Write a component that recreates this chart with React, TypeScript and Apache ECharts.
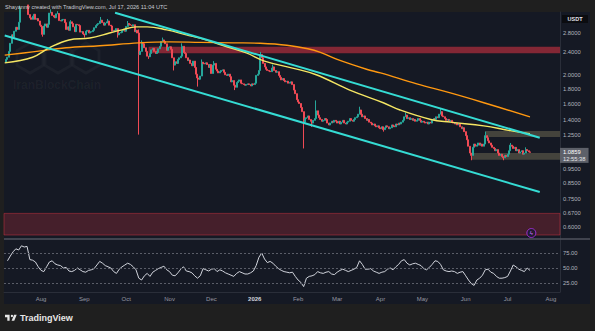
import React, { useEffect, useRef } from "react";
import * as echarts from "echarts";

const DAY = 86400000;
const utc = (s: string) => Date.parse(s + "T00:00:00Z");

// ---------- price data (daily closes) ----------
const firstOpen = 2.22;
const closesJul2025 = [2.27, 2.31, 2.42, 2.58, 2.76, 2.70, 2.84, 2.93, 2.88, 3.05, 3.40, 3.45, 3.44, 3.52, 3.56, 3.50, 3.24, 3.16, 3.12, 3.20, 3.25, 3.12, 3.14, 3.08, 2.98];
const closesAug2025 = [2.95, 2.77, 2.96, 3.01, 2.93, 3.00, 3.28, 3.30, 3.22, 3.18, 3.16, 3.26, 3.27, 3.09, 3.08, 3.11, 3.12, 3.04, 2.88, 2.94, 2.86, 3.06, 3.02, 2.94, 2.83, 3.00, 2.99, 2.97, 2.82, 2.83, 2.78];
const closesSep2025 = [2.76, 2.84, 2.86, 2.80, 2.82, 2.83, 2.86, 2.92, 2.97, 3.00, 3.02, 3.08, 3.10, 3.04, 2.98, 3.03, 3.06, 3.08, 2.98, 2.96, 2.84, 2.86, 2.85, 2.90, 2.76, 2.80, 2.81, 2.85, 2.86, 2.84];
const closesOct2025 = [2.95, 3.02, 3.00, 2.98, 2.96, 2.99, 2.83, 2.86, 2.80, 2.36, 2.42, 2.60, 2.57, 2.49, 2.42, 2.33, 2.32, 2.38, 2.45, 2.48, 2.42, 2.38, 2.40, 2.47, 2.52, 2.62, 2.65, 2.62, 2.57, 2.44, 2.50];
const closesNov2025 = [2.51, 2.46, 2.30, 2.17, 2.23, 2.20, 2.27, 2.30, 2.33, 2.52, 2.40, 2.38, 2.30, 2.25, 2.26, 2.20, 2.16, 2.24, 2.13, 2.02, 1.96, 1.94, 1.99, 2.22, 2.20, 2.19, 2.21, 2.18, 2.13, 2.18];
const closesDec2025 = [2.03, 2.17, 2.20, 2.10, 2.07, 2.04, 2.06, 2.08, 2.09, 2.05, 2.01, 2.00, 2.02, 1.98, 1.90, 1.92, 1.85, 1.82, 1.89, 1.91, 1.93, 1.88, 1.87, 1.86, 1.85, 1.86, 1.87, 1.86, 1.84, 1.87, 1.86];
const closesJan2026 = [1.88, 2.00, 2.02, 2.08, 2.36, 2.30, 2.20, 2.14, 2.10, 2.08, 2.07, 2.06, 2.12, 2.14, 2.08, 2.05, 2.06, 2.00, 1.97, 1.93, 1.95, 1.92, 1.90, 1.91, 1.88, 1.89, 1.90, 1.86, 1.78, 1.73, 1.65];
const closesFeb2026 = [1.62, 1.60, 1.55, 1.50, 1.38, 1.42, 1.43, 1.45, 1.41, 1.39, 1.37, 1.40, 1.42, 1.51, 1.46, 1.43, 1.41, 1.39, 1.40, 1.42, 1.41, 1.37, 1.35, 1.37, 1.39, 1.38, 1.40, 1.39];
const closesMar2026 = [1.37, 1.39, 1.36, 1.38, 1.40, 1.37, 1.36, 1.38, 1.39, 1.42, 1.40, 1.39, 1.41, 1.43, 1.44, 1.47, 1.52, 1.47, 1.44, 1.45, 1.42, 1.40, 1.41, 1.38, 1.37, 1.35, 1.36, 1.34, 1.33, 1.34, 1.32];
const closesApr2026 = [1.31, 1.33, 1.30, 1.32, 1.34, 1.33, 1.31, 1.32, 1.35, 1.34, 1.33, 1.36, 1.35, 1.37, 1.36, 1.38, 1.40, 1.44, 1.46, 1.42, 1.43, 1.41, 1.42, 1.40, 1.41, 1.39, 1.40, 1.42, 1.40, 1.38];
const closesMay2026 = [1.39, 1.38, 1.37, 1.38, 1.36, 1.38, 1.37, 1.40, 1.42, 1.41, 1.44, 1.43, 1.47, 1.50, 1.45, 1.44, 1.42, 1.40, 1.41, 1.39, 1.40, 1.38, 1.37, 1.36, 1.37, 1.35, 1.36, 1.33, 1.31, 1.32, 1.28];
const closesJun2026 = [1.24, 1.20, 1.14, 1.08, 1.06, 1.13, 1.16, 1.14, 1.15, 1.17, 1.15, 1.16, 1.14, 1.16, 1.24, 1.22, 1.19, 1.17, 1.15, 1.13, 1.12, 1.10, 1.11, 1.08, 1.06, 1.07, 1.05, 1.04, 1.06, 1.05];
const closesJul2026 = [1.07, 1.10, 1.15, 1.14, 1.12, 1.13, 1.10, 1.11, 1.08, 1.09, 1.10, 1.07, 1.08, 1.11, 1.10, 1.09, 1.0859];
const firstCandleDate = "2025-07-07";

const wickHighs: [string, number][] = [
  ["2025-07-17", 3.48], ["2025-08-08", 3.38], ["2025-08-13", 3.33], ["2025-08-22", 3.10],
  ["2025-09-13", 3.18], ["2025-09-18", 3.13], ["2025-10-02", 3.08], ["2025-10-10", 2.88],
  ["2025-10-12", 2.64], ["2025-10-27", 2.70], ["2025-11-10", 2.58], ["2025-11-24", 2.27],
  ["2025-12-03", 2.24], ["2026-01-05", 2.41], ["2026-01-14", 2.18], ["2026-02-14", 1.64],
  ["2026-03-17", 1.56], ["2026-04-19", 1.49], ["2026-05-14", 1.54], ["2026-06-15", 1.28],
  ["2026-07-03", 1.17], ["2026-07-14", 1.13],
];
const wickLows: [string, number][] = [
  ["2025-08-02", 2.72], ["2025-09-01", 2.70], ["2025-09-25", 2.70], ["2025-10-10", 1.25],
  ["2025-10-17", 2.28], ["2025-11-04", 2.08], ["2025-11-21", 1.83], ["2025-12-18", 1.78],
  ["2026-02-05", 1.12], ["2026-02-11", 1.33], ["2026-04-03", 1.28], ["2026-06-05", 1.02],
  ["2026-06-28", 1.02],
];

// ---------- moving averages ----------
const yellowMA: [string, number][] = [
  ["2025-07-06", 2.21], ["2025-07-26", 2.31], ["2025-08-07", 2.49], ["2025-08-21", 2.65],
  ["2025-09-05", 2.69], ["2025-09-19", 2.80], ["2025-09-28", 2.87], ["2025-10-08", 2.94],
  ["2025-10-16", 2.94], ["2025-10-30", 2.87], ["2025-11-13", 2.76], ["2025-11-27", 2.65],
  ["2025-12-12", 2.51], ["2025-12-26", 2.39], ["2026-01-08", 2.24], ["2026-01-28", 2.12],
  ["2026-02-14", 2.01], ["2026-03-10", 1.78], ["2026-04-03", 1.61], ["2026-04-15", 1.52],
  ["2026-05-07", 1.41], ["2026-05-21", 1.38], ["2026-06-14", 1.34], ["2026-07-03", 1.29],
  ["2026-07-17", 1.26],
];
const orangeMA: [string, number][] = [
  ["2025-07-06", 2.35], ["2025-07-26", 2.41], ["2025-08-19", 2.49], ["2025-09-12", 2.53],
  ["2025-10-10", 2.59], ["2025-11-01", 2.61], ["2025-11-23", 2.60], ["2025-12-17", 2.59],
  ["2026-01-05", 2.58], ["2026-01-24", 2.54], ["2026-02-08", 2.47], ["2026-02-17", 2.40],
  ["2026-03-01", 2.27], ["2026-03-22", 2.10], ["2026-04-01", 2.04], ["2026-04-27", 1.87],
  ["2026-05-21", 1.74], ["2026-06-14", 1.61], ["2026-07-17", 1.44],
];

// ---------- channel lines ----------
const upperChannel: [string, number][] = [["2025-09-23", 3.29], ["2026-07-24", 1.22]];
const lowerChannel: [string, number][] = [["2025-07-06", 2.745], ["2026-07-24", 0.793]];

// ---------- zones ----------
const supplyZone: [string, number, number] = ["2025-10-17", 2.385, 2.51];
const demandZone: [string, number, number] = ["2025-07-05", 0.5635, 0.669];
const rangeTopZone: [string, number, number] = ["2026-06-15", 1.227, 1.286];
const rangeBottomZone: [string, number, number] = ["2026-06-05", 1.025, 1.08];

// ---------- RSI (every second day from 2025-07-08) ----------
const rsiStart = "2025-07-08";
const rsiValues = [
  62, 70, 77, 82, 80, 87, 85, 86, 64, 63,
  60, 52, 46, 44, 52, 60, 62, 57, 55, 54,
  50, 51, 45, 44, 46, 50, 47, 44, 43, 46,
  47, 49, 55, 61, 58, 54, 52, 50, 44, 41,
  48, 52, 55, 58, 56, 52, 47, 33, 30, 37,
  41, 36, 43, 46, 49, 51, 53, 47, 44, 38,
  37, 42, 48, 52, 45, 44, 42, 37, 33, 37,
  49, 47, 45, 48, 49, 44, 47, 45, 42, 40,
  38, 36, 41, 44, 42, 40, 40, 42, 45, 54,
  68, 75, 65, 59, 61, 58, 53, 49, 46, 44,
  43, 42, 43, 36, 30, 26, 19, 33, 36, 37,
  39, 44, 42, 41, 43, 44, 40, 39, 43, 46,
  48, 46, 44, 46, 48, 51, 62, 56, 48, 48,
  49, 45, 43, 41, 43, 44, 48, 50, 47, 52,
  56, 62, 64, 58, 55, 57, 58, 56, 54, 49,
  47, 51, 56, 62, 61, 56, 47, 45, 44, 45,
  44, 41, 43, 44, 37, 30, 24, 21, 30, 33,
  38, 47, 48, 43, 41, 36, 33, 33, 34, 36,
  45, 55, 52, 48, 46, 44, 50, 46,
];

// ---------- axes ----------
const priceTicks = [2.8, 2.4, 2.0, 1.8, 1.6, 1.4, 1.25, 0.95, 0.85, 0.75, 0.67, 0.6];
const rsiTicks = [25, 50, 75];
const monthTicks = [
  "2025-08-01", "2025-09-01", "2025-10-01", "2025-11-01", "2025-12-01", "2026-01-01", "2026-02-01",
  "2026-03-01", "2026-04-01", "2026-05-01", "2026-06-01", "2026-07-01", "2026-08-01",
];
const monthNames = ["Jan", "Feb", "Mar", "Apr", "May", "Jun", "Jul", "Aug", "Sep", "Oct", "Nov", "Dec"];
const xMin = Date.UTC(2025, 6, 5, 12);
const xMax = Date.UTC(2026, 7, 7, 12);
const priceMin = 0.5503;
const priceMax = 3.308;
const rsiMin = 10;
const rsiMax = 96.67;
const lastPrice = 1.0859;
const lastTime = "12:55:38";
const eventMarker: [string, number] = ["2026-07-18", 0.5725];

const TITLE = "Shayannv created with TradingView.com, Jul 17, 2026 11:04 UTC";
const TV_PATH =
  "M14 22H7V11H0V4h14v18zM28 22h-8l7.5-18h8L28 22zM24.5 7.5a3.5 3.5 0 1 1-7 0a3.5 3.5 0 1 1 7 0z";

function buildCandles() {
  const closes = [
    ...closesJul2025, ...closesAug2025, ...closesSep2025, ...closesOct2025, ...closesNov2025,
    ...closesDec2025, ...closesJan2026, ...closesFeb2026, ...closesMar2026, ...closesApr2026,
    ...closesMay2026, ...closesJun2026, ...closesJul2026,
  ];
  const hi = new Map(wickHighs.map(([d, v]) => [utc(d), v]));
  const lo = new Map(wickLows.map(([d, v]) => [utc(d), v]));
  const t0 = utc(firstCandleDate);
  return closes.map((c, i) => {
    const t = t0 + i * DAY;
    const o = i === 0 ? firstOpen : closes[i - 1];
    let h = Math.max(o, c);
    let l = Math.min(o, c);
    if (hi.has(t)) h = Math.max(h, hi.get(t) as number);
    if (lo.has(t)) l = Math.min(l, lo.get(t) as number);
    return [t, o, c, l, h];
  });
}

const pts = (arr: [string, number][]) => arr.map(([d, v]) => [utc(d), v]);

function zoneItem(z: [string, number, number], color: string, border?: string) {
  return [
    {
      xAxis: Math.max(utc(z[0]), xMin),
      yAxis: z[1],
      itemStyle: { color, borderColor: border || "transparent", borderWidth: border ? 1 : 0 },
    },
    { xAxis: xMax, yAxis: z[2] },
  ];
}

function hexagon(cx: number, cy: number, r: number) {
  const p: number[][] = [];
  for (let k = 0; k < 6; k++) {
    const a = (Math.PI / 3) * k + Math.PI / 6;
    p.push([cx + r * Math.cos(a), cy + r * Math.sin(a)]);
  }
  return p;
}

const FONT = "Liberation Sans, Arial, sans-serif";

function buildOption() {
  const candles = buildCandles();
  const rsiT0 = utc(rsiStart);
  const rsiData = rsiValues.map((v, i) => [rsiT0 + i * 2 * DAY, v]);

  return {
    animation: false,
    backgroundColor: "#1f1f1f",
    textStyle: { fontFamily: FONT },
    grid: [
      { left: 4, right: 35, top: 12, height: 226, outerBoundsMode: "none", containLabel: false },
      { left: 4, right: 35, top: 240, height: 52, outerBoundsMode: "none", containLabel: false },
    ],
    xAxis: [
      {
        type: "value", gridIndex: 0, min: xMin, max: xMax,
        axisLine: { show: false }, axisTick: { show: false }, axisLabel: { show: false },
        splitLine: { show: false },
      },
      {
        type: "value", gridIndex: 1, min: xMin, max: xMax,
        axisLine: { show: true, onZero: false, lineStyle: { color: "#2a2e39", width: 1 } },
        axisTick: { show: false },
        splitLine: { show: false },
        axisLabel: {
          customValues: monthTicks.map(utc),
          color: "#9598a1",
          fontSize: 6,
          margin: 4,
          fontFamily: FONT,
          formatter: (v: number) => {
            const d = new Date(v);
            const m = d.getUTCMonth();
            return m === 0 ? "{b|" + d.getUTCFullYear() + "}" : monthNames[m];
          },
          rich: { b: { fontWeight: "bold", color: "#d1d4dc", fontSize: 6, fontFamily: FONT } },
        },
      },
    ],
    yAxis: [
      {
        type: "log", gridIndex: 0, position: "right", min: priceMin, max: priceMax, logBase: 10,
        axisLine: { show: true, lineStyle: { color: "#2a2e39" } },
        axisTick: { show: false },
        splitLine: { show: false },
        axisLabel: {
          customValues: priceTicks,
          formatter: (v: number) => v.toFixed(4),
          color: "#b2b5be", fontSize: 5.8, margin: 3, fontFamily: FONT,
        },
      },
      {
        type: "value", gridIndex: 1, position: "right", min: rsiMin, max: rsiMax,
        axisLine: { show: true, lineStyle: { color: "#2a2e39" } },
        axisTick: { show: false },
        splitLine: { show: false },
        axisLabel: {
          customValues: rsiTicks,
          formatter: (v: number) => v.toFixed(2),
          color: "#b2b5be", fontSize: 5.8, margin: 3, fontFamily: FONT,
        },
      },
    ],
    series: [
      {
        type: "candlestick",
        xAxisIndex: 0, yAxisIndex: 0,
        data: candles,
        barWidth: 1.5,
        silent: true,
        itemStyle: {
          color: "#26a69a", color0: "#f04a55",
          borderColor: "#26a69a", borderColor0: "#f04a55", borderWidth: 1,
        },
        markArea: {
          silent: true,
          data: [
            zoneItem(demandZone, "rgba(242,54,69,0.22)", "rgba(242,54,69,0.4)"),
            zoneItem(supplyZone, "rgba(242,54,69,0.5)"),
            zoneItem(rangeTopZone, "rgba(205,190,130,0.26)"),
            zoneItem(rangeBottomZone, "rgba(205,190,130,0.26)"),
          ],
        },
        markLine: {
          silent: true,
          symbol: ["none", "none"],
          lineStyle: { color: "rgba(0,0,0,0)", width: 0.01 },
          data: [{ yAxis: lastPrice }],
          label: {
            show: true,
            position: "end",
            distance: 0,
            offset: [0, 3.5],
            formatter: "{p|" + lastPrice.toFixed(4) + "}\n{t|" + lastTime + "}",
            backgroundColor: "#5d6069",
            padding: [1, 3, 1, 3],
            rich: {
              p: { color: "#ffffff", fontSize: 5.8, lineHeight: 6.5, fontFamily: FONT },
              t: { color: "#e6e7ea", fontSize: 5.8, lineHeight: 6.5, fontFamily: FONT },
            },
          },
        },
        markPoint: {
          silent: true,
          data: [
            {
              coord: [utc(eventMarker[0]), eventMarker[1]],
              symbol: "circle",
              symbolSize: 9,
              itemStyle: { color: "#231b31", borderColor: "#9c2fd0", borderWidth: 1 },
              label: { show: true, formatter: "ϟ", color: "#c66cff", fontSize: 6, position: "inside" },
            },
          ],
        },
      },
      {
        type: "line", xAxisIndex: 0, yAxisIndex: 0, data: pts(orangeMA), smooth: 0.4,
        showSymbol: false, silent: true, lineStyle: { color: "#ff9810", width: 1.4 },
      },
      {
        type: "line", xAxisIndex: 0, yAxisIndex: 0, data: pts(yellowMA), smooth: 0.4,
        showSymbol: false, silent: true, lineStyle: { color: "#f5e663", width: 1.4 },
      },
      {
        type: "line", xAxisIndex: 0, yAxisIndex: 0, data: pts(upperChannel),
        showSymbol: false, silent: true, lineStyle: { color: "#35dcd4", width: 2 },
      },
      {
        type: "line", xAxisIndex: 0, yAxisIndex: 0, data: pts(lowerChannel),
        showSymbol: false, silent: true, lineStyle: { color: "#35dcd4", width: 2 },
      },
      {
        type: "line", xAxisIndex: 1, yAxisIndex: 1, data: rsiData,
        showSymbol: false, silent: true, lineStyle: { color: "#d1d4dc", width: 1 },
        markLine: {
          silent: true,
          symbol: ["none", "none"],
          label: { show: false },
          lineStyle: { color: "#5a5d68", type: [2, 2], width: 1 },
          data: rsiTicks.map((v) => ({ yAxis: v })),
        },
      },
    ],
    graphic: {
      elements: [
        {
          type: "rect", z: -10, silent: true,
          shape: { x: 4, y: 12, width: 586, height: 292 },
          style: { fill: "#151924" },
        },
        ...[hexagon(30, 58, 15), hexagon(58, 58, 15), hexagon(86, 58, 15)].map((p) => ({
          type: "polygon", z: -5, silent: true,
          shape: { points: p },
          style: { fill: "none", stroke: "rgba(255,255,255,0.035)", lineWidth: 3 },
        })),
        {
          type: "text", z: -5, silent: true, x: 13, y: 85,
          style: {
            text: "IranBlockChain", fill: "rgba(255,255,255,0.045)", fontSize: 12,
            fontWeight: "bold", fontFamily: FONT, verticalAlign: "middle",
          },
        },
        {
          type: "line", z: 5, silent: true,
          shape: { x1: 4, y1: 239, x2: 590, y2: 239 },
          style: { stroke: "#6c6f78", lineWidth: 1.2 },
        },
        {
          type: "text", z: 5, silent: true, x: 5, y: 7,
          style: { text: TITLE, fill: "#c9ccd4", fontSize: 5.6, fontFamily: FONT, verticalAlign: "middle" },
        },
        {
          type: "rect", z: 5, silent: true,
          shape: { x: 562, y: 15, width: 26, height: 8 },
          style: { fill: "#0b0c10" },
        },
        {
          type: "text", z: 6, silent: true, x: 575, y: 19,
          style: {
            text: "USDT", fill: "#e0e3eb", fontSize: 5.5, fontWeight: "bold", fontFamily: FONT,
            align: "center", verticalAlign: "middle",
          },
        },
        {
          type: "tvlogo", z: 5, silent: true, x: 5, y: 313.5, scaleX: 0.33, scaleY: 0.33,
          style: { fill: "#e6e6e6" },
        },
        {
          type: "text", z: 5, silent: true, x: 20, y: 318,
          style: {
            text: "TradingView", fill: "#e6e6e6", fontSize: 9, fontWeight: 600, fontFamily: FONT,
            verticalAlign: "middle",
          },
        },
      ],
    },
  };
}

export default function App() {
  const ref = useRef<HTMLDivElement>(null);
  useEffect(() => {
    if (!ref.current) return;
    echarts.graphic.registerShape("tvlogo", echarts.graphic.extendPath(TV_PATH, {}) as any);
    const chart = echarts.init(ref.current, null, { renderer: "svg" });
    chart.setOption(buildOption() as any);
    return () => chart.dispose();
  }, []);
  return (
    <div
      ref={ref}
      style={{ position: "fixed", left: 0, top: 0, width: 595, height: 331 }}
    />
  );
}
